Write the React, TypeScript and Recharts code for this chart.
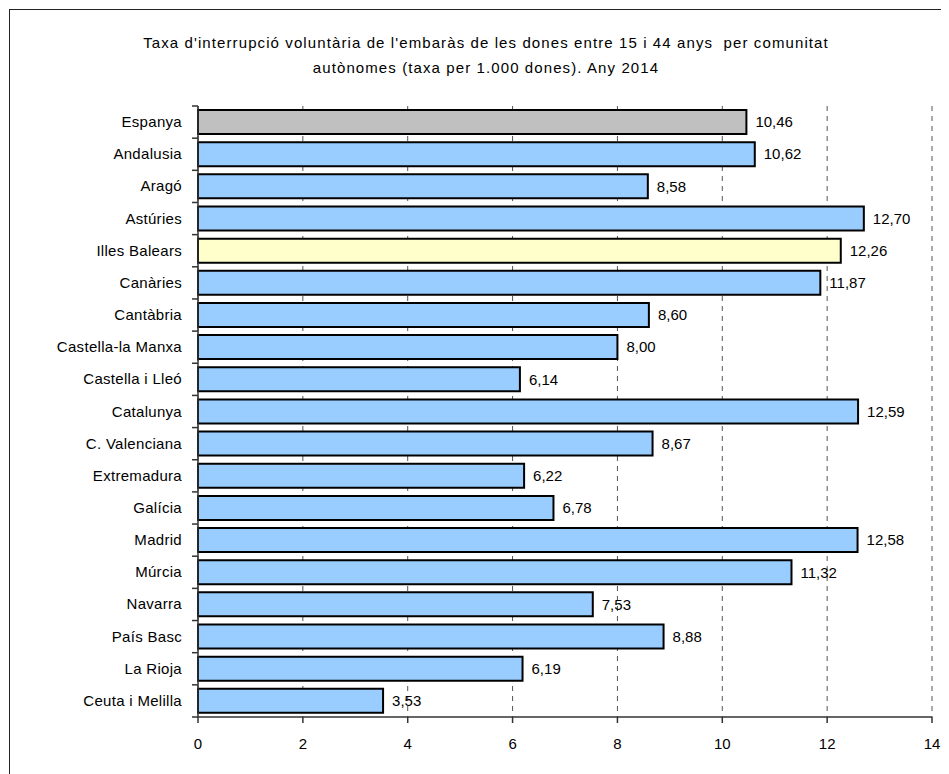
import { BarChart, Bar, XAxis, YAxis, CartesianGrid, Cell, LabelList } from "recharts";

const regions = [
  "Espanya",
  "Andalusia",
  "Aragó",
  "Astúries",
  "Illes Balears",
  "Canàries",
  "Cantàbria",
  "Castella-la Manxa",
  "Castella i Lleó",
  "Catalunya",
  "C. Valenciana",
  "Extremadura",
  "Galícia",
  "Madrid",
  "Múrcia",
  "Navarra",
  "País Basc",
  "La Rioja",
  "Ceuta i Melilla",
];
const rates = [
  10.46, 10.62, 8.58, 12.7, 12.26, 11.87, 8.6, 8.0, 6.14, 12.59, 8.67, 6.22, 6.78, 12.58, 11.32,
  7.53, 8.88, 6.19, 3.53,
];
const xTicks = [0, 2, 4, 6, 8, 10, 12, 14];

const FONT = "'Liberation Sans', Arial, sans-serif";
const W = 941;
const H = 766;
const MARGIN = { top: 98, right: 17, left: 0, bottom: 27 };
const Y_WIDTH = 190;
const X_HEIGHT = 30;
const STEP = (H - MARGIN.top - MARGIN.bottom - X_HEIGHT) / regions.length;

const data = regions.map((name, i) => ({ name, value: rates[i] }));

function fillFor(name: string) {
  if (name === "Espanya") return "#C0C0C0";
  if (name === "Illes Balears") return "#FFFFCC";
  return "#99CCFF";
}

function RegionTick(props: any) {
  const { y, payload, index } = props;
  const axisX = MARGIN.left + Y_WIDTH;
  const last = index === regions.length - 1;
  return (
    <g>
      <line x1={axisX - 6} x2={axisX} y1={y - STEP / 2} y2={y - STEP / 2} stroke="#333" strokeWidth={1.5} />
      {last && (
        <line x1={axisX - 6} x2={axisX} y1={y + STEP / 2} y2={y + STEP / 2} stroke="#333" strokeWidth={1.5} />
      )}
      <text
        x={axisX - 16}
        y={y}
        dy={5}
        textAnchor="end"
        fontSize={15}
        letterSpacing={0.3}
        fill="#000"
        fontFamily={FONT}
      >
        {payload.value}
      </text>
    </g>
  );
}

export default function App() {
  return (
    <div
      style={{
        position: "relative",
        width: W,
        height: H,
        fontFamily: FONT,
        background: "#fff",
        overflow: "hidden",
      }}
    >
      <div
        style={{
          position: "absolute",
          left: 1,
          top: 1,
          width: W + 20,
          height: H + 20,
          borderLeft: "1.5px solid #222",
          borderTop: "1.5px solid #222",
        }}
      />
      <div
        style={{
          position: "absolute",
          left: 0,
          top: 22,
          width: 956,
          textAlign: "center",
          fontSize: 15,
          lineHeight: "25px",
          letterSpacing: 1.1,
          whiteSpace: "pre",
          color: "#000",
        }}
      >
        {"Taxa d'interrupció voluntària de l'embaràs de les dones entre 15 i 44 anys  per comunitat"}
        {"\n"}
        {"autònomes (taxa per 1.000 dones). Any 2014"}
      </div>
      <div style={{ position: "absolute", left: 0, top: 0 }}>
        <BarChart width={W} height={H} data={data} layout="vertical" margin={MARGIN}>
          <CartesianGrid horizontal={false} vertical stroke="#555" strokeDasharray="5 5" />
          <XAxis
            type="number"
            domain={[0, 14]}
            ticks={xTicks}
            interval={0}
            height={X_HEIGHT}
            stroke="#333"
            strokeWidth={1.5}
            tickSize={6}
            tickMargin={15}
            tick={{ fontSize: 15, fill: "#000", fontFamily: FONT }}
          />
          <XAxis
            xAxisId="top"
            orientation="top"
            type="number"
            domain={[0, 14]}
            height={0}
            tick={false}
            tickLine={false}
            stroke="#333"
            strokeWidth={1.5}
          />
          <YAxis
            type="category"
            dataKey="name"
            width={Y_WIDTH}
            interval={0}
            tickLine={false}
            stroke="#333"
            strokeWidth={1.5}
            tick={<RegionTick />}
          />
          <Bar dataKey="value" barSize={24} stroke="#000" strokeWidth={2} isAnimationActive={false}>
            {data.map((d) => (
              <Cell key={d.name} fill={fillFor(d.name)} />
            ))}
            <LabelList
              dataKey="value"
              position="right"
              offset={9}
              fontSize={15}
              fill="#000"
              fontFamily={FONT}
              formatter={(v: any) => Number(v).toFixed(2).replace(".", ",")}
            />
          </Bar>
        </BarChart>
      </div>
    </div>
  );
}
